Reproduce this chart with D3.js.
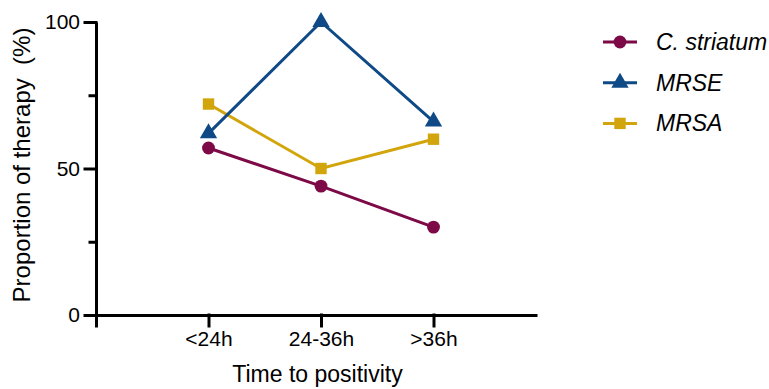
<!DOCTYPE html>
<html>
<head>
<meta charset="utf-8">
<script src="https://cdn.jsdelivr.net/npm/d3@7"></script>
<style>
  body { margin: 0; background: #fff; }
  svg text { font-family: "Liberation Sans", Arial, sans-serif; }
</style>
</head>
<body>
<div id="chart"></div>
<script>
// data
const categories = ["<24h", "24-36h", ">36h"];
const cStriatum = [57, 44, 30];
const mrse = [62, 100, 66];
const mrsa = [72, 50, 60];
const yTicks = [0, 25, 50, 75, 100];
const yLabels = [0, 50, 100];

const seriesNames = ["C. striatum", "MRSE", "MRSA"];
const seriesColors = ["#7d0a46", "#0f4a87", "#d2a50c"];
const seriesShapes = [d3.symbolCircle, d3.symbolTriangle, d3.symbolSquare];
const seriesValues = [cStriatum, mrse, mrsa];

const width = 769, height = 389;
const margin = { left: 96, right: 232, top: 22, bottom: 74 };

const svg = d3.select('#chart').append('svg')
    .attr('width', width)
    .attr('height', height);

// x is a linear index scale: 0 = axis origin, categories at 1..3
const x = d3.scaleLinear().domain([0, 3.92]).range([margin.left, width - margin.right]);
const y = d3.scaleLinear().domain([0, 100]).range([height - margin.bottom, margin.top]);

// y axis
const yAxis = svg.append('g')
    .attr('transform', `translate(${margin.left},0)`)
    .call(d3.axisLeft(y).tickValues(yTicks).tickSize(11).tickSizeOuter(0).tickPadding(5)
        .tickFormat(d => yLabels.includes(d) ? d : ''));
yAxis.selectAll('.tick line').filter(d => !yLabels.includes(d)).attr('x2', -6);

// x axis
const xAxis = svg.append('g')
    .attr('transform', `translate(0,${y(0)})`)
    .call(d3.axisBottom(x).tickValues([0, 1, 2, 3]).tickSize(11).tickSizeOuter(0).tickPadding(5)
        .tickFormat(d => d === 0 ? '' : categories[d - 1]));

svg.selectAll('g').attr('font-family', null);
svg.selectAll('.domain, .tick line')
    .attr('stroke', '#000')
    .attr('stroke-width', 3)
    .attr('stroke-linecap', 'square');
svg.selectAll('.domain').attr('stroke-linecap', 'butt');
svg.selectAll('.tick text')
    .attr('fill', '#000')
    .style('font-size', '21px');

// axis titles
svg.append('text')
    .attr('x', (x.range()[0] + x.range()[1]) / 2 + 1)
    .attr('y', 382)
    .attr('text-anchor', 'middle')
    .style('font-size', '23px')
    .text('Time to positivity');

svg.append('text')
    .attr('transform', 'translate(30,165) rotate(-90)')
    .attr('text-anchor', 'middle')
    .style('font-size', '24px')
    .style('white-space', 'pre')
    .text('Proportion of therapy  (%)');

// lines and markers (draw order: C. striatum, MRSA, MRSE)
const line = d3.line()
    .x((d, i) => x(i + 1))
    .y(d => y(d));

const order = [0, 2, 1];
order.forEach(k => {
    const g = svg.append('g');
    g.append('path')
        .datum(seriesValues[k])
        .attr('d', line)
        .attr('fill', 'none')
        .attr('stroke', seriesColors[k])
        .attr('stroke-width', 3);
    g.selectAll('path.pt')
        .data(seriesValues[k])
        .enter()
        .append('path')
        .attr('class', 'pt')
        .attr('transform', (d, i) => `translate(${x(i + 1)},${y(d)})`)
        .attr('d', d3.symbol().type(seriesShapes[k]).size(130))
        .attr('fill', seriesColors[k]);
});

// legend
const legend = svg.append('g').attr('transform', 'translate(603,42)');
seriesNames.forEach((name, i) => {
    const row = legend.append('g').attr('transform', `translate(0,${i * 40.7})`);
    row.append('line')
        .attr('x1', 0).attr('x2', 34)
        .attr('stroke', seriesColors[i])
        .attr('stroke-width', 3);
    row.append('path')
        .attr('transform', 'translate(17,0)')
        .attr('d', d3.symbol().type(seriesShapes[i]).size(130))
        .attr('fill', seriesColors[i]);
    row.append('text')
        .attr('x', 53)
        .attr('dy', '0.35em')
        .style('font-size', '23px')
        .style('font-style', 'italic')
        .text(name);
});
</script>
</body>
</html>
